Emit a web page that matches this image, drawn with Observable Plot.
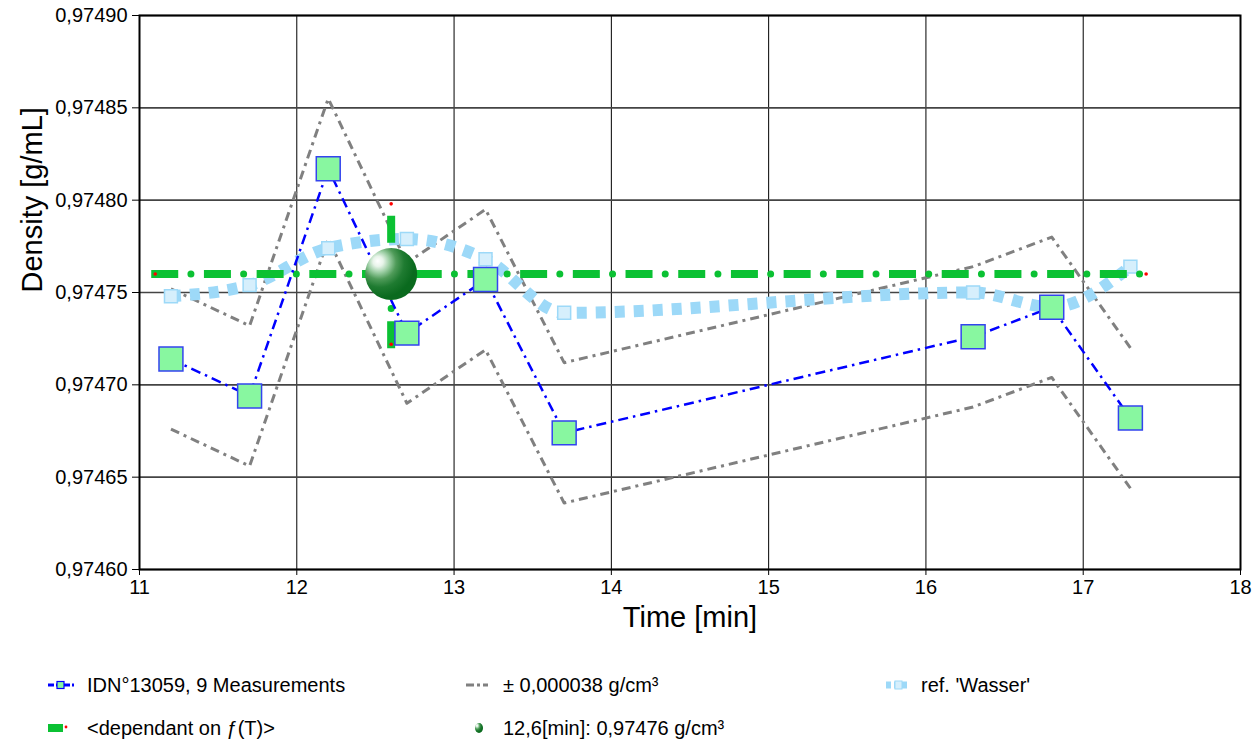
<!DOCTYPE html>
<html>
<head>
<meta charset="utf-8">
<script src="https://cdn.jsdelivr.net/npm/d3@7"></script>
<script src="https://cdn.jsdelivr.net/npm/@observablehq/plot@0.6"></script>
<style>
  body { margin: 0; background: #fff; font-family: "Liberation Sans", Arial, sans-serif; }
  #wrap { position: relative; width: 1253px; height: 744px; overflow: hidden; }
  .leg { position: absolute; font-size: 20px; line-height: 24px; color: #000; white-space: nowrap; }
  .ico { position: absolute; }
</style>
</head>
<body>
<div id="wrap"></div>
<script>
// ---- data ----
const times      = [11.2, 11.7, 12.2, 12.7, 13.2, 13.7, 16.3, 16.8, 17.3];
const density    = [0.974714, 0.974694, 0.974817, 0.974728, 0.974757, 0.974674, 0.974726, 0.974742, 0.974682];
const upperBand  = [0.974752, 0.974732, 0.974855, 0.974766, 0.974795, 0.974712, 0.974764, 0.974780, 0.974720];
const lowerBand  = [0.974676, 0.974656, 0.974779, 0.974690, 0.974719, 0.974636, 0.974688, 0.974704, 0.974644];
const refWasser  = [0.974748, 0.974754, 0.974774, 0.974779, 0.974768, 0.974739, 0.974750, 0.974742, 0.974764];
const fitTimeSpan  = [11.1, 17.4];          // horizontal <dependant on f(T)> line
const fitLevel     = 0.97476;
const fitTime      = 12.6;
const fitDensSpan  = [0.974722, 0.974798];  // vertical tolerance line at 12,6 min
const xTicks = [11, 12, 13, 14, 15, 16, 17, 18];
const yTicks = [0.97460, 0.97465, 0.97470, 0.97475, 0.97480, 0.97485, 0.97490];
const legendLabels = ["IDN°13059, 9 Measurements", "± 0,000038 g/cm³", "ref. 'Wasser'", "<dependant on ƒ(T)>", "12,6[min]: 0,97476 g/cm³"];

// ---- tables ----
const rows = times.map((t, i) => ({t, d: density[i], u: upperBand[i], l: lowerBand[i], r: refWasser[i]}));
const hLine = fitTimeSpan.map(t => ({t, d: fitLevel}));
const vLine = fitDensSpan.map(d => ({t: fitTime, d}));
const ends = [...hLine, ...vLine];
const green = "#0bc133";
const fmtY = d => d.toFixed(5).replace(".", ",");

const chart = Plot.plot({
  width: 1253,
  height: 650,
  marginLeft: 139,
  marginRight: 13,
  marginTop: 15,
  marginBottom: 81,
  style: {fontFamily: "'Liberation Sans', Arial, sans-serif", fontSize: "20px", color: "#000", background: "#fff", overflow: "visible"},
  x: {domain: [11, 18], ticks: xTicks, tickFormat: d => String(d), label: null, tickSize: 6, tickPadding: 4},
  y: {domain: [0.9746, 0.9749], ticks: yTicks, tickFormat: fmtY, label: null, tickSize: 7, tickPadding: 5},
  marks: [
    Plot.gridX(xTicks, {stroke: "#000", strokeOpacity: 1, strokeWidth: 1}),
    Plot.gridY(yTicks, {stroke: "#444", strokeOpacity: 1, strokeWidth: 1.6}),
    // ± band
    Plot.line(rows, {x: "t", y: "u", stroke: "#808080", strokeWidth: 3, strokeDasharray: "9,5,3,5", strokeLinecap: "butt"}),
    Plot.line(rows, {x: "t", y: "l", stroke: "#808080", strokeWidth: 3, strokeDasharray: "9,5,3,5", strokeLinecap: "butt"}),
    // reference water
    Plot.line(rows, {x: "t", y: "r", stroke: "#9dd9f8", strokeWidth: 12, strokeDasharray: "10,9", strokeLinecap: "butt", curve: "monotone-x"}),
    Plot.dot(rows, {x: "t", y: "r", symbol: "square", r: 7.3, fill: "#d6effc", stroke: "#9dd9f8", strokeWidth: 1.5}),
    // dependant on f(T): horizontal
    Plot.line(hLine, {x: "t", y: "d", stroke: green, strokeWidth: 8, strokeDasharray: "19,33.7", strokeLinecap: "square"}),
    Plot.line(hLine, {x: "t", y: "d", stroke: green, strokeWidth: 7, strokeDasharray: "0,52.7", strokeDashoffset: 17, strokeLinecap: "round"}),
    // vertical
    Plot.line(vLine, {x: "t", y: "d", stroke: green, strokeWidth: 8, strokeDasharray: "19,33.7", strokeLinecap: "square"}),
    Plot.line(vLine, {x: "t", y: "d", stroke: green, strokeWidth: 7, strokeDasharray: "0,52.7", strokeDashoffset: 17, strokeLinecap: "round"}),
    Plot.dot(ends, {x: "t", y: "d", r: 1.8, fill: "#ff0000", stroke: "none"}),
    // measurements
    Plot.line(rows, {x: "t", y: "d", stroke: "#0000ff", strokeWidth: 2.5, strokeDasharray: "10,5,2.5,5", strokeLinecap: "butt"}),
    Plot.dot(rows, {x: "t", y: "d", symbol: "square", r: 13.5, fill: "#88f7a0", stroke: "#3344ee", strokeWidth: 1.5}),
    // fit sphere
    Plot.dot([{t: fitTime, d: fitLevel}], {x: "t", y: "d", r: 26, fill: "url(#sphereGrad)", stroke: "none"}),
    Plot.frame({stroke: "#000", strokeWidth: 2}),
    // axis titles
    Plot.text(["Time [min]"], {text: d => d, frameAnchor: "bottom", dy: 57, fontSize: 29}),
    Plot.text(["Density [g/mL]"], {text: d => d, frameAnchor: "left", rotate: -90, dx: -107, fontSize: 29})
  ]
});

d3.select(chart).insert("defs", ":first-child").html(`
  <radialGradient id="sphereGrad" cx="0.3" cy="0.3" r="0.65" fx="0.24" fy="0.25">
    <stop offset="0" stop-color="#ffffff"/>
    <stop offset="0.15" stop-color="#e8f4ea"/>
    <stop offset="0.32" stop-color="#9ccea4"/>
    <stop offset="0.5" stop-color="#4f9b59"/>
    <stop offset="0.72" stop-color="#1f7b31"/>
    <stop offset="1" stop-color="#0a6a1e"/>
  </radialGradient>`);

const wrap = document.getElementById("wrap");
wrap.appendChild(chart);

// ---- legend ----
const icons = [
  {x: 48, y: 685, svg: `<svg width="26" height="12"><line x1="0" y1="6" x2="26" y2="6" stroke="#0000ff" stroke-width="3" stroke-dasharray="6,2"/><rect x="9" y="2.5" width="7" height="7" fill="#88f7a0" stroke="#0000ff" stroke-width="1.2"/></svg>`},
  {x: 466, y: 685, svg: `<svg width="26" height="12"><line x1="0" y1="6" x2="22" y2="6" stroke="#808080" stroke-width="3" stroke-dasharray="8,3,3,3"/></svg>`},
  {x: 886, y: 685, svg: `<svg width="26" height="12"><line x1="0" y1="6" x2="24" y2="6" stroke="#9dd9f8" stroke-width="7" stroke-dasharray="5,3"/><rect x="9" y="2" width="7" height="8" fill="#d6effc" stroke="#9dd9f8" stroke-width="1"/></svg>`},
  {x: 48, y: 728, svg: `<svg width="26" height="12"><rect x="0" y="2" width="15" height="8" fill="${green}"/><circle cx="18" cy="5" r="1.4" fill="#ff0000"/></svg>`},
  {x: 472, y: 728, svg: `<svg width="14" height="14"><ellipse cx="7" cy="7" rx="4" ry="5" fill="url(#sphereGrad)"/></svg>`}
];
const textX = [87, 503, 921, 87, 503];
icons.forEach((ic, i) => {
  const d = document.createElement("div");
  d.className = "ico";
  d.innerHTML = ic.svg;
  const h = i === 4 ? 14 : 12;
  d.style.left = ic.x + "px";
  d.style.top = (ic.y - h / 2) + "px";
  d.style.height = h + "px";
  d.style.lineHeight = "0";
  wrap.appendChild(d);
  const t = document.createElement("div");
  t.className = "leg";
  t.textContent = legendLabels[i];
  t.style.left = textX[i] + "px";
  t.style.top = (ic.y - 12) + "px";
  wrap.appendChild(t);
});
</script>
</body>
</html>
